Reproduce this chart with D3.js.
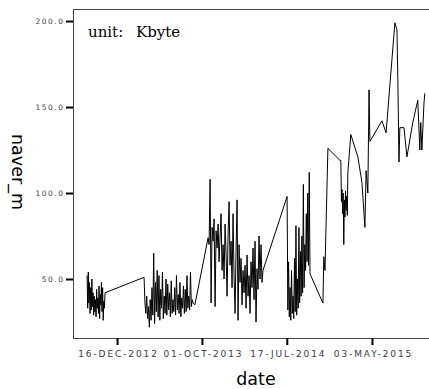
<!DOCTYPE html>
<html>
<head>
<meta charset="utf-8">
<script src="https://cdnjs.cloudflare.com/ajax/libs/d3/7.8.5/d3.min.js"></script>
<style>
  body { margin: 0; background: #fff; }
  svg { display: block; }
</style>
</head>
<body>
<div id="chart"></div>
<script>
// dense stretches: start date, end date, values spread evenly between them
const segStarts = ['2012-09-05', '2013-03-21', '2013-10-22', '2014-07-18', '2015-01-17'];
const segEnds   = ['2012-11-05', '2013-09-01', '2014-04-27', '2014-10-04', '2015-02-10'];
const segValues = [
  [52, 33, 54, 36, 48, 30, 45, 32, 50, 34, 42, 29, 40, 31, 38, 28, 44, 33, 39, 30, 46, 27, 41, 35, 48, 31, 45, 26, 37, 33, 42],
  [36, 30, 40, 27, 34, 22, 38, 26, 45, 29, 65, 24, 48, 31, 55, 28, 52, 26, 44, 33, 54, 27, 40, 30, 50, 29, 47, 32,
   42, 28, 49, 30, 38, 31, 45, 29, 52, 32, 41, 30, 48, 28, 39, 33, 46, 30, 44, 31, 52, 33, 40, 32, 54, 34, 38, 36],
  [74, 70, 108, 36, 80, 72, 85, 34, 78, 68, 82, 60, 75, 88, 55, 70, 50, 82, 65, 40, 76, 95, 58, 72, 45, 88, 52, 30,
   66, 96, 26, 70, 48, 62, 35, 55, 42, 58, 33, 64, 40, 52, 30, 60, 45, 68, 38, 72, 25, 56, 44, 75, 50, 70, 48, 55],
  [98, 32, 60, 28, 45, 26, 55, 30, 40, 27, 62, 31, 81, 29, 50, 33, 80, 36, 66, 40, 75, 42, 105, 45, 70, 55, 88, 60, 100, 58, 112, 53],
  [119, 95, 102, 88, 100, 70, 96, 86, 101, 90, 98, 87, 112]
];

// sparse readings
const pointDates = ['2013-03-18', '2013-09-07', '2014-11-17', '2014-11-20', '2014-11-24', '2014-12-04', '2015-01-14',
  '2015-02-20', '2015-03-16', '2015-03-30', '2015-04-09', '2015-04-13', '2015-04-19', '2015-04-23', '2015-04-26',
  '2015-06-06', '2015-06-20', '2015-07-20', '2015-07-27', '2015-07-30', '2015-08-03', '2015-08-06', '2015-08-20',
  '2015-08-30', '2015-09-19', '2015-10-06', '2015-10-13', '2015-10-16', '2015-10-20', '2015-10-27', '2015-10-30'];
const pointValues = [51, 35, 36, 63, 55, 126, 119,
  134, 121, 106, 80, 113, 100, 160, 130,
  142, 135, 199, 195, 167, 118, 138, 138,
  121, 141, 154, 125, 141, 125, 152, 158];

const xTickDates = ['2012-12-16', '2013-10-01', '2014-07-17', '2015-05-03'];
const yTickValues = [50, 100, 150, 200];
const xDomain = ['2012-07-19', '2015-11-20'];
const yDomain = [15.7, 207];

const parse = d3.timeParse('%Y-%m-%d');
let data = [];
segValues.forEach((vals, s) => {
  const t0 = parse(segStarts[s]).getTime(), t1 = parse(segEnds[s]).getTime();
  vals.forEach((v, i) => {
    data.push({ date: new Date(t0 + (t1 - t0) * i / (vals.length - 1)), value: v });
  });
});
pointDates.forEach((d, i) => data.push({ date: parse(d), value: pointValues[i] }));
data.sort((a, b) => a.date - b.date);

const width = 429, height = 389;
const plot = { left: 73, top: 9, right: 431, bottom: 338 };

const svg = d3.select('#chart').append('svg')
  .attr('width', width)
  .attr('height', height);

const x = d3.scaleTime()
  .domain(xDomain.map(parse))
  .range([plot.left, plot.right]);
const y = d3.scaleLinear()
  .domain(yDomain)
  .range([plot.bottom, plot.top]);

// frame
svg.append('rect')
  .attr('x', plot.left + 0.5)
  .attr('y', plot.top + 0.5)
  .attr('width', plot.right - plot.left)
  .attr('height', plot.bottom - plot.top)
  .style('fill', 'none')
  .style('stroke', '#444')
  .style('stroke-width', 1);

// line
const line = d3.line()
  .x(d => x(d.date))
  .y(d => y(d.value));
svg.append('path')
  .datum(data)
  .attr('d', line)
  .style('fill', 'none')
  .style('stroke', '#000')
  .style('stroke-width', 1);

// y axis
const yAxis = d3.axisLeft(y)
  .tickValues(yTickValues)
  .tickSize(7)
  .tickPadding(3)
  .tickFormat(d3.format('.1f'));
const yg = svg.append('g')
  .attr('transform', `translate(${plot.left},0)`)
  .call(yAxis);
yg.select('.domain').remove();
yg.selectAll('.tick line').style('stroke', '#000').style('stroke-width', 2);
yg.selectAll('.tick text')
  .style('font-family', 'DejaVu Sans')
  .style('font-size', '7.5px')
  .style('letter-spacing', '1.5px')
  .style('fill', '#4a3a3a')
  .attr('dx', '1.5px');

// x axis
const xAxis = d3.axisBottom(x)
  .tickValues(xTickDates.map(parse))
  .tickSize(7)
  .tickPadding(6)
  .tickFormat(d => d3.timeFormat('%d-%b-%Y')(d).toUpperCase());
const xg = svg.append('g')
  .attr('transform', `translate(0,${plot.bottom})`)
  .call(xAxis);
xg.select('.domain').remove();
xg.selectAll('.tick line').style('stroke', '#000').style('stroke-width', 2);
xg.selectAll('.tick text')
  .style('font-family', 'DejaVu Sans')
  .style('font-size', '9px')
  .style('letter-spacing', '1.9px')
  .style('fill', '#3a3a4a')
  .attr('dx', '1px');

// titles
svg.append('text')
  .attr('x', 256)
  .attr('y', 385)
  .style('text-anchor', 'middle')
  .style('font-family', 'DejaVu Sans')
  .style('font-size', '17.5px')
  .style('fill', '#000')
  .text('date');

svg.append('text')
  .attr('transform', `translate(12,172) rotate(90)`)
  .style('text-anchor', 'middle')
  .style('font-family', 'DejaVu Sans')
  .style('font-size', '17.5px')
  .style('fill', '#000')
  .text('naver_m');

svg.append('text')
  .attr('x', 88)
  .attr('y', 37)
  .style('font-family', 'DejaVu Serif')
  .style('font-size', '15px')
  .style('fill', '#000')
  .style('word-spacing', '8px')
  .text('unit: Kbyte');
</script>
</body>
</html>
